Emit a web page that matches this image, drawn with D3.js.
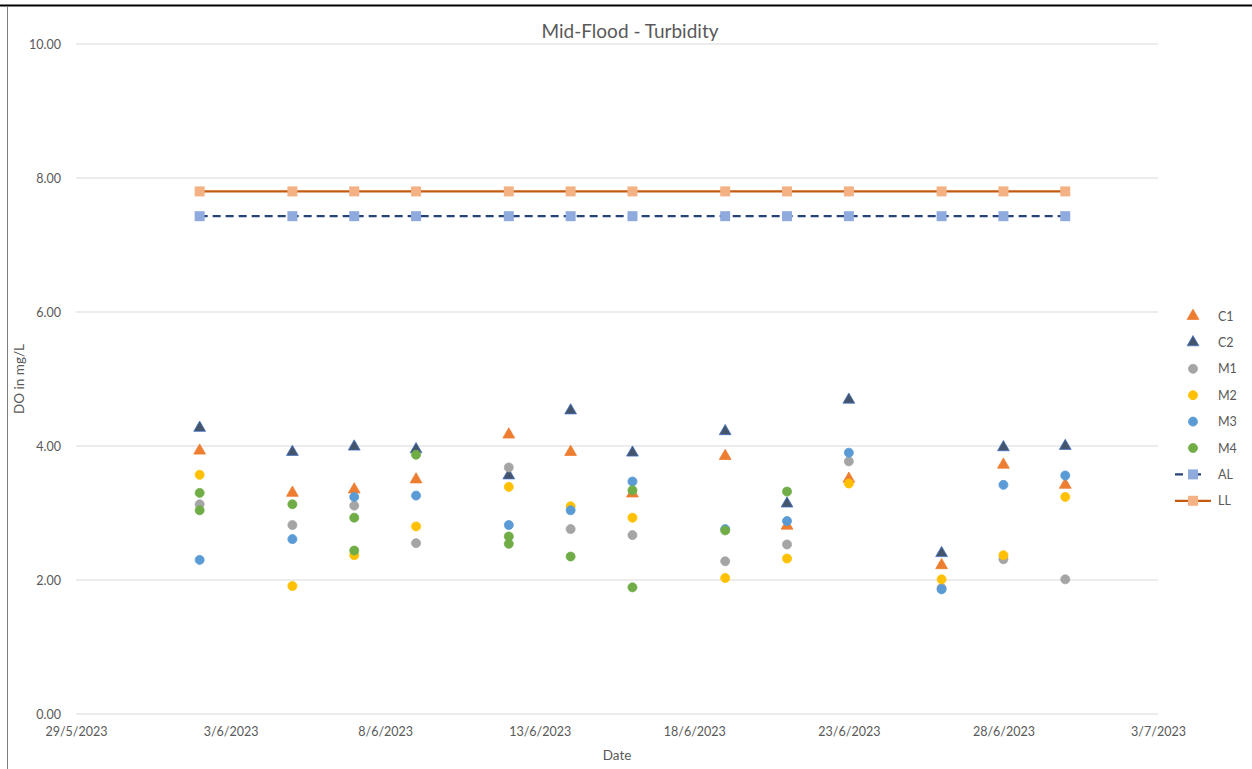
<!DOCTYPE html>
<html>
<head>
<meta charset="utf-8">
<script src="https://cdn.jsdelivr.net/npm/d3@7"></script>
<style>
  body { margin: 0; background: #fff; }
  svg { display: block; }
</style>
</head>
<body>
<div id="chart"></div>
<script>
// Sampling dates (day/month 2023)
const dates = ["2/6", "5/6", "7/6", "9/6", "12/6", "14/6", "16/6", "19/6", "21/6", "23/6", "26/6", "28/6", "30/6"];

const C1 = [3.93, 3.30, 3.35, 3.50, 4.17, 3.91, 3.29, 3.85, 2.81, 3.51, 2.22, 3.72, 3.42];
const C2 = [4.27, 3.91, 3.99, 3.95, 3.56, 4.53, 3.90, 4.22, 3.14, 4.69, 2.40, 3.98, 4.00];
const M1 = [3.13, 2.82, 3.11, 2.55, 3.68, 2.76, 2.67, 2.28, 2.53, 3.77, 1.88, 2.31, 2.01];
const M2 = [3.57, 1.91, 2.37, 2.80, 3.39, 3.10, 2.93, 2.03, 2.32, 3.44, 2.01, 2.37, 3.24];
const M3 = [2.30, 2.61, 3.24, 3.26, 2.82, 3.04, 3.47, 2.76, 2.88, 3.90, 1.86, 3.42, 3.56];
const M4 = [3.30, 3.13, 2.93, 3.87, 2.65, 2.35, 3.34, 2.74, 3.32, null, null, null, null];
// second M4 reading on some days
const M4b = [3.04, null, 2.44, null, 2.54, null, 1.89, null, null, null, null, null, null];
const AL = [7.43, 7.43, 7.43, 7.43, 7.43, 7.43, 7.43, 7.43, 7.43, 7.43, 7.43, 7.43, 7.43];
const LL = [7.80, 7.80, 7.80, 7.80, 7.80, 7.80, 7.80, 7.80, 7.80, 7.80, 7.80, 7.80, 7.80];

const yTicks = [0, 2, 4, 6, 8, 10];
const xTickDates = ["2023-05-29", "2023-06-03", "2023-06-08", "2023-06-13", "2023-06-18", "2023-06-23", "2023-06-28", "2023-07-03"];

const FONT = "Lato, 'Open Sans', sans-serif";
const TXT = "#595959";

const W = 1252, H = 769;
const svg = d3.select("#chart").append("svg").attr("width", W).attr("height", H);

// page frame bits
svg.append("line").attr("x1", 0).attr("x2", W).attr("y1", 5.5).attr("y2", 5.5)
  .attr("stroke", "#000").attr("stroke-width", 2);
svg.append("line").attr("x1", 7.5).attr("x2", 7.5).attr("y1", 7).attr("y2", H)
  .attr("stroke", "#7f7f7f").attr("stroke-width", 1);

const parse = s => { const [d, m] = s.split("/"); return new Date(2023, +m - 1, +d); };
const days = dates.map(parse);

const x = d3.scaleTime()
  .domain([new Date(2023, 4, 29), new Date(2023, 6, 3)])
  .range([76, 1158]);
const y = d3.scaleLinear().domain([0, 10]).range([714, 44]);

// gridlines
svg.append("g").selectAll("line").data(yTicks).enter().append("line")
  .attr("x1", 76).attr("x2", 1158)
  .attr("y1", d => y(d)).attr("y2", d => y(d))
  .attr("stroke", "#d9d9d9").attr("stroke-width", 1);

// y axis labels
svg.append("g")
  .attr("transform", "translate(70,0)")
  .call(d3.axisLeft(y).tickValues(yTicks).tickFormat(d3.format(".2f")).tickSize(0))
  .call(ax => ax.select(".domain").remove())
  .selectAll("text")
  .attr("fill", TXT).attr("font-size", "12.5px").attr("font-family", FONT).attr("dx", "-6");

// x axis labels
const fmtDate = d3.timeFormat("%-d/%-m/%Y");
svg.append("g")
  .attr("transform", "translate(0,714)")
  .call(d3.axisBottom(x).tickValues(xTickDates.map(s => new Date(s + "T00:00"))).tickFormat(fmtDate).tickSize(0))
  .call(ax => ax.select(".domain").remove())
  .selectAll("text")
  .attr("fill", TXT).attr("font-size", "12.5px").attr("font-family", FONT).attr("dy", "1.55em");

// title and axis titles
svg.append("text").attr("x", 630).attr("y", 38).attr("text-anchor", "middle")
  .attr("fill", TXT).attr("font-size", "19px").attr("font-family", FONT)
  .text("Mid-Flood - Turbidity");
svg.append("text").attr("x", 617).attr("y", 760).attr("text-anchor", "middle")
  .attr("fill", TXT).attr("font-size", "13.5px").attr("font-family", FONT).text("Date");
svg.append("text").attr("transform", "translate(24,379) rotate(-90)").attr("text-anchor", "middle")
  .attr("fill", TXT).attr("font-size", "13.5px").attr("font-family", FONT).text("DO in mg/L");

const tri = d3.symbol().type(d3.symbolTriangle).size(60);
const circ = d3.symbol().type(d3.symbolCircle).size(64);
const sq = d3.symbol().type(d3.symbolSquare).size(100);

const scatter = [
  { name: "C1", vals: C1, path: tri, fill: "#ED7D31", stroke: "#ED7D31" },
  { name: "C2", vals: C2, path: tri, fill: "#44546A", stroke: "#4472C4" },
  { name: "M1", vals: M1, path: circ, fill: "#A5A5A5", stroke: "#A5A5A5" },
  { name: "M2", vals: M2, path: circ, fill: "#FFC000", stroke: "#FFC000" },
  { name: "M3", vals: M3, path: circ, fill: "#5B9BD5", stroke: "#5B9BD5" },
  { name: "M4", vals: M4, path: circ, fill: "#70AD47", stroke: "#70AD47" }
];
const lines = [
  { name: "AL", vals: AL, line: "#264478", dash: "8,5", mark: "#8FAADC" },
  { name: "LL", vals: LL, line: "#C55A11", dash: null, mark: "#F4B183" }
];

function drawPoints(vals, s) {
  const pts = vals.map((v, i) => ({ d: days[i], v })).filter(p => p.v != null);
  svg.append("g").selectAll("path").data(pts).enter().append("path")
    .attr("transform", p => `translate(${x(p.d)},${y(p.v)})`)
    .attr("d", s.path())
    .attr("fill", s.fill).attr("stroke", s.stroke).attr("stroke-width", 0.8);
}

scatter.forEach(s => {
  drawPoints(s.vals, s);
  if (s.name === "M4") drawPoints(M4b, s);
});

lines.forEach(l => {
  const pts = l.vals.map((v, i) => ({ d: days[i], v }));
  svg.append("path").datum(pts)
    .attr("d", d3.line().x(p => x(p.d)).y(p => y(p.v)))
    .attr("fill", "none").attr("stroke", l.line).attr("stroke-width", 2.25)
    .attr("stroke-dasharray", l.dash);
  svg.append("g").selectAll("path").data(pts).enter().append("path")
    .attr("transform", p => `translate(${x(p.d)},${y(p.v)})`)
    .attr("d", sq()).attr("fill", l.mark);
});

// legend
const lg = svg.append("g");
const legItems = scatter.map(s => ({ ...s, kind: "pt" })).concat(lines.map(l => ({ ...l, kind: "ln" })));
legItems.forEach((it, i) => {
  const ly = 316 + i * 26.4;
  const row = lg.append("g").attr("transform", `translate(1193,${ly})`);
  if (it.kind === "pt") {
    row.append("path").attr("d", it.path()).attr("fill", it.fill).attr("stroke", it.stroke).attr("stroke-width", 0.8);
  } else {
    row.append("line").attr("x1", -18).attr("x2", 18).attr("y1", 0).attr("y2", 0)
      .attr("stroke", it.line).attr("stroke-width", 2.25)
      .attr("stroke-dasharray", it.dash ? "8,10" : null);
    row.append("path").attr("d", sq()).attr("fill", it.mark);
  }
  row.append("text").attr("x", 25).attr("y", 4.5)
    .attr("fill", TXT).attr("font-size", "12.5px").attr("font-family", FONT).text(it.name);
});
</script>
</body>
</html>
